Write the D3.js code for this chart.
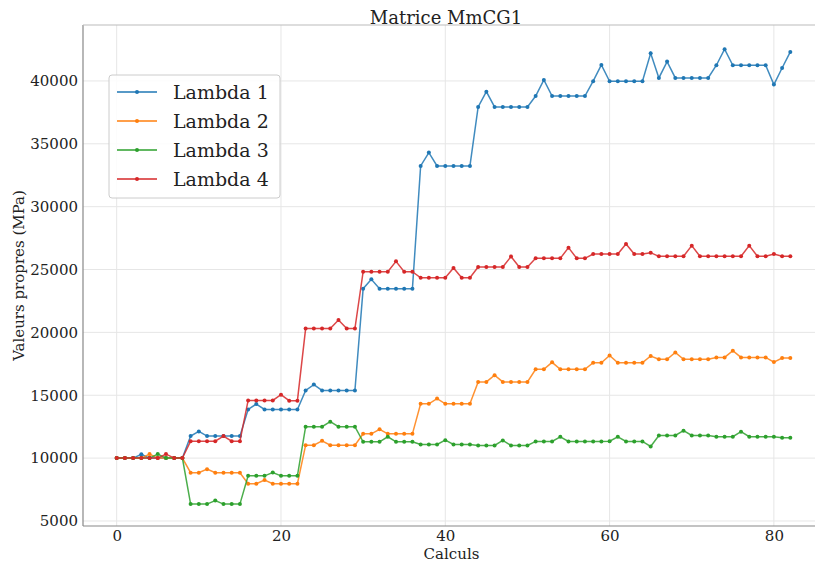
<!DOCTYPE html>
<html>
<head>
<meta charset="utf-8">
<script src="https://cdn.jsdelivr.net/npm/d3@7"></script>
<style>
  html, body { margin: 0; padding: 0; background: #fff; }
  svg { display: block; font-family: "DejaVu Serif", serif; }
</style>
</head>
<body>
<svg id="chart" width="815" height="563"></svg>
<script>
// Eigenvalues (MPa) per calculation step
const lambda1 = [
  10000, 10000, 10000, 10300, 10000, 10000, 10000, 10000, 10000,
  11750, 12120, 11750, 11750, 11750, 11750, 11750,
  13870, 14300, 13870, 13870, 13870, 13870, 13870,
  15380, 15850, 15380, 15380, 15380, 15380, 15380,
  23480, 24220, 23480, 23480, 23480, 23480, 23480,
  33240, 34300, 33240, 33240, 33240, 33240, 33240,
  37930, 39150, 37930, 37930, 37930, 37930, 37930,
  38800, 40080, 38800, 38800, 38800, 38800, 38800,
  39980, 41270, 39970, 39970, 39970, 39970, 39970,
  42200, 40240, 41540, 40240, 40240, 40240, 40240, 40240,
  41250, 42520, 41250, 41250, 41250, 41250, 41250,
  39710, 41030, 42310
];
const lambda2 = [
  10000, 10000, 10000, 10000, 10320, 10000, 10000, 10000, 10000,
  8840, 8840, 9120, 8840, 8840, 8840, 8840,
  7960, 7960, 8250, 7960, 7960, 7960, 7960,
  11030, 11030, 11380, 11030, 11030, 11030, 11030,
  11930, 11930, 12290, 11930, 11930, 11930, 11930,
  14320, 14320, 14740, 14320, 14320, 14320, 14320,
  16060, 16060, 16590, 16060, 16060, 16060, 16060,
  17060, 17060, 17620, 17060, 17060, 17060, 17060,
  17590, 17590, 18170, 17590, 17590, 17590, 17590,
  18120, 17860, 17860, 18410, 17860, 17860, 17860, 17860,
  18010, 18010, 18540, 18010, 18010, 18010, 18010,
  17640, 17960, 17960
];
const lambda3 = [
  10000, 10000, 10000, 10000, 10000, 10320, 10000, 10000, 10000,
  6340, 6340, 6340, 6630, 6340, 6340, 6340,
  8590, 8590, 8590, 8860, 8590, 8590, 8590,
  12500, 12500, 12500, 12900, 12500, 12500, 12500,
  11300, 11300, 11300, 11700, 11300, 11300, 11300,
  11090, 11090, 11090, 11430, 11090, 11090, 11090,
  11010, 11010, 11010, 11410, 11010, 11010, 11010,
  11330, 11330, 11330, 11700, 11330, 11330, 11330,
  11330, 11330, 11340, 11700, 11330, 11330, 11330,
  10930, 11800, 11800, 11800, 12180, 11800, 11800, 11800,
  11700, 11700, 11700, 12100, 11700, 11700, 11700,
  11700, 11620, 11620
];
const lambda4 = [
  10000, 10000, 10000, 10000, 10000, 10000, 10320, 10000, 10000,
  11350, 11350, 11350, 11350, 11750, 11350, 11350,
  14590, 14590, 14590, 14590, 15040, 14570, 14570,
  20300, 20300, 20300, 20300, 20980, 20300, 20300,
  24830, 24830, 24830, 24830, 25650, 24830, 24830,
  24340, 24340, 24340, 24340, 25120, 24340, 24340,
  25200, 25200, 25200, 25200, 26030, 25200, 25200,
  25890, 25890, 25890, 25890, 26740, 25890, 25890,
  26230, 26230, 26230, 26230, 27030, 26230, 26230,
  26340, 26050, 26050, 26050, 26050, 26900, 26050, 26050,
  26050, 26050, 26050, 26050, 26900, 26050, 26050,
  26230, 26050, 26050
];
const seriesNames = ["Lambda 1", "Lambda 2", "Lambda 3", "Lambda 4"];
const seriesColors = ["#1f77b4", "#ff7f0e", "#2ca02c", "#d62728"];
const xTicks = [0, 20, 40, 60, 80];
const yTicks = [5000, 10000, 15000, 20000, 25000, 30000, 35000, 40000];

const series = [lambda1, lambda2, lambda3, lambda4].map((vals, k) => ({
  name: seriesNames[k],
  color: seriesColors[k],
  points: vals.map((v, i) => [i, v])
}));

const svg = d3.select("#chart");
const plot = { left: 83, right: 824, top: 25, bottom: 526 };

const x = d3.scaleLinear().domain([-4.1, 86.1]).range([plot.left, plot.right]);
const y = d3.scaleLinear().domain([4600, 44450]).range([plot.bottom, plot.top]);

// grid
const grid = svg.append("g");
grid.selectAll(".gy").data(yTicks).join("line")
  .attr("x1", plot.left).attr("x2", plot.right)
  .attr("y1", d => y(d)).attr("y2", d => y(d))
  .attr("stroke", "#e6e6e6").attr("stroke-width", 1);
grid.selectAll(".gx").data(xTicks).join("line")
  .attr("x1", d => x(d)).attr("x2", d => x(d))
  .attr("y1", plot.top).attr("y2", plot.bottom)
  .attr("stroke", "#e6e6e6").attr("stroke-width", 1);

// axes
const xAxis = svg.append("g")
  .attr("transform", `translate(0,${plot.bottom})`)
  .call(d3.axisBottom(x).tickValues(xTicks).tickSize(0).tickPadding(4).tickFormat(d3.format("d")));
const yAxis = svg.append("g")
  .attr("transform", `translate(${plot.left},0)`)
  .call(d3.axisLeft(y).tickValues(yTicks).tickSize(0).tickPadding(5).tickFormat(d3.format("d")));
[xAxis, yAxis].forEach(g => {
  g.select(".domain").remove();
  g.selectAll("text").attr("font-family", "DejaVu Serif").attr("font-size", 15).attr("fill", "#222");
});

// frame
svg.append("line").attr("x1", plot.left).attr("x2", plot.left)
  .attr("y1", plot.top).attr("y2", plot.bottom).attr("stroke", "#888").attr("stroke-width", 1.2);
svg.append("line").attr("x1", plot.left).attr("x2", plot.right)
  .attr("y1", plot.bottom).attr("y2", plot.bottom).attr("stroke", "#888").attr("stroke-width", 1.2);
svg.append("line").attr("x1", plot.left).attr("x2", plot.right)
  .attr("y1", plot.top).attr("y2", plot.top).attr("stroke", "#bbb").attr("stroke-width", 1);

// series
const line = d3.line().x(d => x(d[0])).y(d => y(d[1]));
const sg = svg.append("g");
series.forEach(s => {
  sg.append("path").datum(s.points)
    .attr("d", line).attr("fill", "none")
    .attr("stroke", s.color).attr("stroke-width", 1.5).attr("stroke-opacity", 0.85);
  sg.append("g").selectAll("circle").data(s.points).join("circle")
    .attr("cx", d => x(d[0])).attr("cy", d => y(d[1])).attr("r", 2)
    .attr("fill", s.color);
});

// titles
svg.append("text").attr("x", 446).attr("y", 24).attr("text-anchor", "middle")
  .attr("font-size", 18).attr("fill", "#222").text("Matrice MmCG1");
svg.append("text").attr("x", (plot.left + plot.right) / 2 - 2).attr("y", 559).attr("text-anchor", "middle")
  .attr("font-size", 15).attr("fill", "#222").text("Calculs");
svg.append("text").attr("transform", `translate(24,${(plot.top + plot.bottom) / 2}) rotate(-90)`)
  .attr("text-anchor", "middle").attr("font-size", 15).attr("fill", "#222").text("Valeurs propres (MPa)");

// legend
const lg = svg.append("g").attr("transform", "translate(109,75)");
lg.append("rect").attr("width", 171).attr("height", 123).attr("rx", 3)
  .attr("fill", "#fff").attr("fill-opacity", 0.85).attr("stroke", "#ccc");
series.forEach((s, k) => {
  const row = lg.append("g").attr("transform", `translate(0,${17 + k * 29})`);
  row.append("line").attr("x1", 8).attr("x2", 48).attr("stroke", s.color).attr("stroke-width", 1.5);
  row.append("circle").attr("cx", 28).attr("r", 2).attr("fill", s.color);
  row.append("text").attr("x", 64).attr("y", 7).attr("font-size", 19).attr("fill", "#222").text(s.name);
});
</script>
</body>
</html>
